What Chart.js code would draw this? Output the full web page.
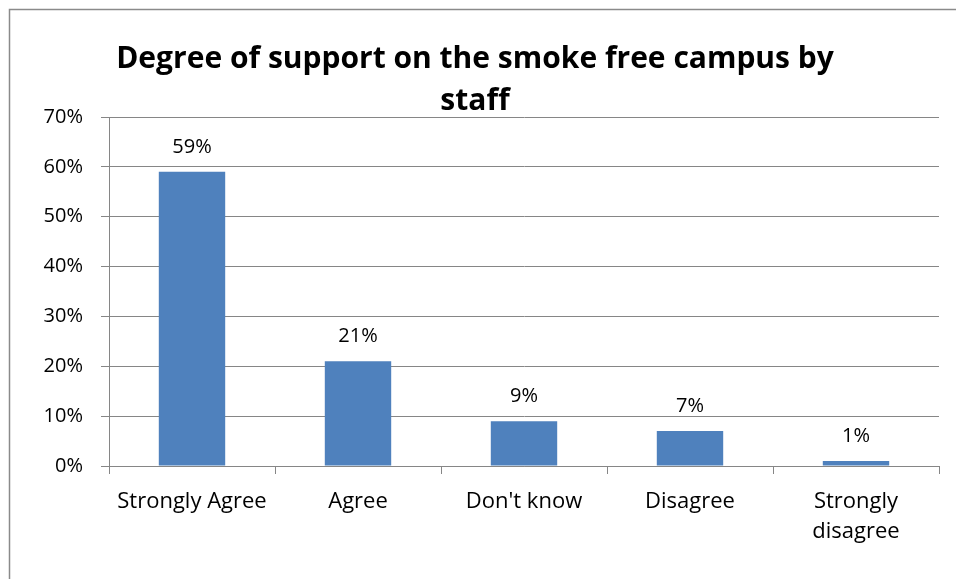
<!DOCTYPE html>
<html>
<head>
<meta charset="utf-8">
<script src="https://cdn.jsdelivr.net/npm/chart.js@4"></script>
<style>
  html, body { margin: 0; padding: 0; background: #fff; }
  #wrap { width: 956px; height: 579px; position: relative; }
</style>
</head>
<body>
<div id="wrap"><canvas id="support-chart" width="956" height="579"></canvas></div>
<script>
const chartTitle = ['Degree of support on the smoke free campus by', 'staff'];
const categories = ['Strongly Agree', 'Agree', "Don't know", 'Disagree', ['Strongly', 'disagree']];
const supportPct = [59, 21, 9, 7, 1];
const yTicks = [0, 10, 20, 30, 40, 50, 60, 70];

const FONT = '"Open Sans", "Noto Sans", sans-serif';
const GRID = '#868686';

// frame around the chart object
const framePlugin = {
    id: 'frame',
    beforeDraw(chart) {
        const ctx = chart.ctx;
        ctx.save();
        ctx.strokeStyle = '#8a8a8a';
        ctx.lineWidth = 1.5;
        ctx.strokeRect(9.5, 9.5, 1200, 1200);
        ctx.restore();
    }
};

// two-line bold heading
const headingPlugin = {
    id: 'heading',
    afterDraw(chart) {
        const ctx = chart.ctx;
        ctx.save();
        ctx.fillStyle = '#000';
        ctx.font = 'bold 30px ' + FONT;
        ctx.textAlign = 'center';
        ctx.textBaseline = 'alphabetic';
        ctx.fillText(chartTitle[0], 475, 68);
        ctx.fillText(chartTitle[1], 475, 110);
        ctx.restore();
    }
};

// percentage above each bar
const valueLabels = {
    id: 'valueLabels',
    afterDatasetsDraw(chart) {
        const ctx = chart.ctx;
        const meta = chart.getDatasetMeta(0);
        ctx.save();
        ctx.fillStyle = '#000';
        ctx.font = '20px ' + FONT;
        ctx.textAlign = 'center';
        ctx.textBaseline = 'alphabetic';
        meta.data.forEach((bar, i) => {
            ctx.fillText(supportPct[i] + '%', bar.x, bar.y - 19);
        });
        ctx.restore();
    }
};

new Chart(document.getElementById('support-chart').getContext('2d'), {
    type: 'bar',
    data: {
        labels: categories,
        datasets: [{
            data: supportPct,
            backgroundColor: '#4F81BD',
            borderWidth: 0,
            categoryPercentage: 1,
            barPercentage: 0.4
        }]
    },
    options: {
        responsive: false,
        animation: false,
        layout: { padding: { top: 117, right: 17, bottom: 0, left: 0 } },
        plugins: {
            legend: { display: false },
            title: { display: false },
            tooltip: { enabled: false }
        },
        scales: {
            x: {
                grid: { offset: true, drawOnChartArea: false, drawTicks: true, tickLength: 8, color: GRID, lineWidth: 1 },
                border: { display: true, color: GRID, width: 1 },
                ticks: { color: '#000', font: { family: FONT, size: 22, lineHeight: 1.4 }, padding: 12, maxRotation: 0, autoSkip: false },
                afterFit(scale) { scale.height = 113; }
            },
            y: {
                min: 0,
                max: 70,
                afterBuildTicks(scale) { scale.ticks = yTicks.map(v => ({ value: v })); },
                grid: { color: GRID, lineWidth: 1, drawTicks: true, tickLength: 8 },
                border: { display: true, color: GRID, width: 1 },
                ticks: { color: '#000', font: { family: FONT, size: 20 }, padding: 18, callback: v => v + '%' },
                afterFit(scale) { scale.width = 109; }
            }
        }
    },
    plugins: [framePlugin, headingPlugin, valueLabels]
});
</script>
</body>
</html>
